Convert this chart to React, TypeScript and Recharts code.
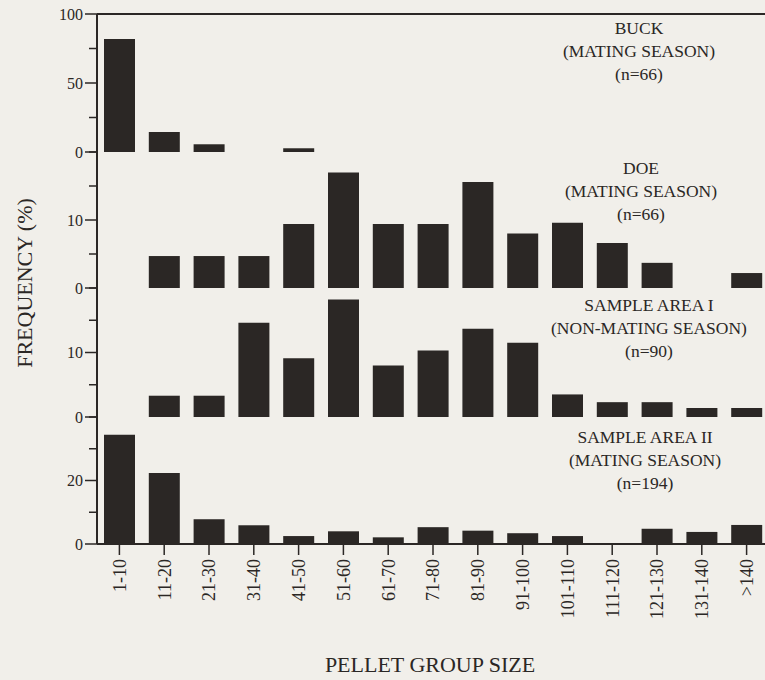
import { BarChart, Bar, XAxis, YAxis, ReferenceLine } from "recharts";

const categories = [
  "1-10", "11-20", "21-30", "31-40", "41-50", "51-60", "61-70", "71-80",
  "81-90", "91-100", "101-110", "111-120", "121-130", "131-140", ">140",
];

// frequency (%) per pellet group size
const buck = [81.8, 14.5, 5.6, 0, 2.7, 0, 0, 0, 0, 0, 0, 0, 0, 0, 0];
const doe = [0, 4.7, 4.7, 4.7, 9.4, 17, 9.4, 9.4, 15.6, 8, 9.6, 6.6, 3.7, 0, 2.2];
const areaOne = [0, 3.3, 3.3, 14.6, 9.1, 18.2, 8, 10.3, 13.7, 11.5, 3.5, 2.3, 2.3, 1.4, 1.4];
const areaTwo = [34.4, 22.4, 7.8, 5.9, 2.5, 4, 2.1, 5.3, 4.2, 3.4, 2.5, 0, 4.8, 3.8, 6];

const buckTicks = [0, 25, 50, 75, 100];
const buckLabels = [0, 50, 100];
const smallTicks = [0, 5, 10, 15, 20];
const smallLabels = [0, 10];
const areaTwoTicks = [0, 10, 20, 30, 40];
const areaTwoLabels = [0, 20];

const buckTitle = ["BUCK", "(MATING SEASON)", "(n=66)"];
const doeTitle = ["DOE", "(MATING SEASON)", "(n=66)"];
const areaOneTitle = ["SAMPLE AREA I", "(NON-MATING SEASON)", "(n=90)"];
const areaTwoTitle = ["SAMPLE AREA II", "(MATING SEASON)", "(n=194)"];

const rows = categories.map((range, i) => ({
  range,
  buck: buck[i],
  doe: doe[i],
  areaOne: areaOne[i],
  areaTwo: areaTwo[i],
}));

const INK = "#2b2725";
const PAPER = "#f1efea";
const FONT = "'Liberation Serif', 'DejaVu Serif', serif";
const CHART_W = 769;
const AXIS_W = 97;

const panels = [
  { key: "buck", ticks: buckTicks, labels: buckLabels, top: 14, bottom: 152, title: buckTitle, cx: 639, ty: 28 },
  { key: "doe", ticks: smallTicks, labels: smallLabels, top: 152, bottom: 288, title: doeTitle, cx: 641, ty: 168 },
  { key: "areaOne", ticks: smallTicks, labels: smallLabels, top: 288, bottom: 417, title: areaOneTitle, cx: 649, ty: 305 },
  { key: "areaTwo", ticks: areaTwoTicks, labels: areaTwoLabels, top: 417, bottom: 544, title: areaTwoTitle, cx: 645, ty: 437 },
];

const YTick = (props: any) => {
  const { x, y, payload, labels } = props;
  const major = labels.includes(payload.value);
  return (
    <g>
      <line x1={x - (major ? 12 : 8)} x2={x} y1={y} y2={y} stroke={INK} strokeWidth={1.5} />
      {major && (
        <text x={x - 14} y={y} dy="0.35em" textAnchor="end" fontSize={16} fontFamily={FONT} fill={INK}>
          {payload.value}
        </text>
      )}
    </g>
  );
};

const XTick = (props: any) => {
  const { x, y, payload } = props;
  return (
    <g transform={`translate(${x},${y})`}>
      <line x1={0} x2={0} y1={0} y2={11} stroke={INK} strokeWidth={1.5} />
      <text
        transform="rotate(-90)"
        x={-15}
        y={0}
        dy="0.35em"
        textAnchor="end"
        fontSize={18}
        fontFamily={FONT}
        fill={INK}
      >
        {payload.value}
      </text>
    </g>
  );
};

export default function App() {
  return (
    <div
      style={{
        position: "absolute",
        left: 0,
        top: 0,
        width: 765,
        height: 680,
        overflow: "hidden",
        background: PAPER,
        fontFamily: FONT,
        color: INK,
      }}
    >
      {panels.map((p, idx) => {
        const last = idx === panels.length - 1;
        const chartTop = p.top - 10;
        const xHeight = last ? 136 : 0;
        const bottomPad = last ? 0 : 12;
        const height = p.bottom - chartTop + xHeight + bottomPad;
        const max = p.ticks[p.ticks.length - 1];
        return (
          <div key={p.key} style={{ position: "absolute", left: 0, top: chartTop }}>
            <BarChart
              width={CHART_W}
              height={height}
              data={rows}
              margin={{ top: 10, right: 0, bottom: bottomPad, left: 0 }}
              barCategoryGap={0}
            >
              <XAxis
                dataKey="range"
                height={xHeight}
                interval={0}
                tickSize={0}
                tickMargin={0}
                tickLine={false}
                tick={last ? <XTick /> : false}
                axisLine={{ stroke: INK, strokeWidth: 2 }}
              />
              <YAxis
                width={AXIS_W}
                domain={[0, max]}
                ticks={p.ticks}
                interval={0}
                tickSize={0}
                tickMargin={0}
                tickLine={false}
                tick={(tp: any) => <YTick {...tp} labels={p.labels} />}
                axisLine={{ stroke: INK, strokeWidth: 2 }}
              />
              {idx === 0 && <ReferenceLine y={max} stroke={INK} strokeWidth={2} />}
              <Bar dataKey={p.key} fill={INK} barSize={31} isAnimationActive={false} />
            </BarChart>
          </div>
        );
      })}

      {panels.map((p) => (
        <div
          key={p.key + "-title"}
          style={{
            position: "absolute",
            left: p.cx - 150,
            top: p.ty - 11.5,
            width: 300,
            textAlign: "center",
            fontSize: 17.5,
            lineHeight: "23px",
            whiteSpace: "nowrap",
          }}
        >
          {p.title.map((line) => (
            <div key={line}>{line}</div>
          ))}
        </div>
      ))}

      <div
        style={{
          position: "absolute",
          left: 25 - 120,
          top: 283 - 13,
          width: 240,
          height: 26,
          lineHeight: "26px",
          textAlign: "center",
          fontSize: 22,
          transform: "rotate(-90deg)",
          whiteSpace: "nowrap",
        }}
      >
        FREQUENCY (%)
      </div>
      <div
        style={{
          position: "absolute",
          left: 430 - 150,
          top: 665 - 13,
          width: 300,
          lineHeight: "26px",
          textAlign: "center",
          fontSize: 22,
        }}
      >
        PELLET GROUP SIZE
      </div>
    </div>
  );
}
